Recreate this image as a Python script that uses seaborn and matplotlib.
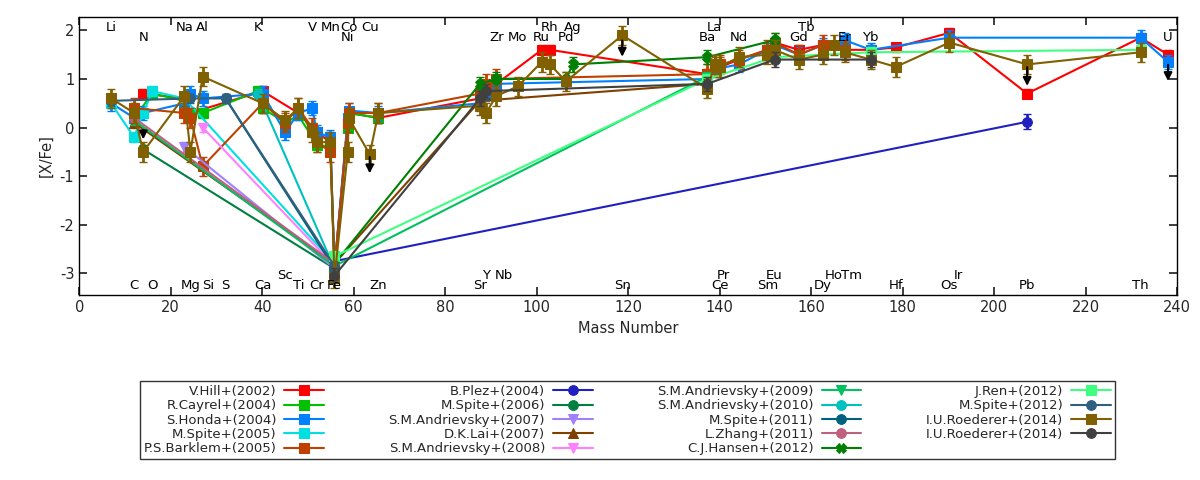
import numpy as np
import pandas as pd
import matplotlib
matplotlib.use('Agg')
import matplotlib.pyplot as plt
import seaborn as sns

sns.set_theme(style='ticks')
plt.rcParams['font.family'] = ['DejaVu Sans']
plt.rcParams['axes.unicode_minus'] = False

# element mass numbers
mass = {'Li': 7, 'C': 12, 'N': 14, 'O': 16, 'Na': 23, 'Mg': 24.3, 'Al': 27, 'Si': 28.1,
        'S': 32, 'K': 39.1, 'Ca': 40.1, 'Sc': 45, 'Ti': 47.9, 'V': 50.9, 'Cr': 52,
        'Mn': 54.9, 'Fe': 55.8, 'Ni': 58.7, 'Co': 58.9, 'Cu': 63.5, 'Zn': 65.4,
        'Sr': 87.6, 'Y': 88.9, 'Zr': 91.2, 'Nb': 92.9, 'Mo': 95.9, 'Ru': 101.1,
        'Rh': 102.9, 'Pd': 106.4, 'Ag': 107.9, 'Sn': 118.7, 'Ba': 137.3, 'La': 138.9,
        'Ce': 140.1, 'Pr': 140.9, 'Nd': 144.2, 'Sm': 150.4, 'Eu': 152, 'Gd': 157.3,
        'Tb': 158.9, 'Dy': 162.5, 'Ho': 164.9, 'Er': 167.3, 'Tm': 168.9, 'Yb': 173,
        'Hf': 178.5, 'Os': 190.2, 'Ir': 192.2, 'Pb': 207.2, 'Th': 232, 'U': 238}

# element label positions (y in [X/Fe])
top_hi = ['Li', 'Na', 'Al', 'K', 'V', 'Mn', 'Co', 'Cu', 'Rh', 'Ag', 'La', 'Tb']
top_lo = ['N', 'Ni', 'Zr', 'Mo', 'Ru', 'Pd', 'Ba', 'Nd', 'Gd', 'Er', 'Yb', 'U']
bot_lo = ['C', 'O', 'Mg', 'Si', 'S', 'Ca', 'Ti', 'Cr', 'Fe', 'Zn', 'Sr', 'Sn', 'Ce',
          'Sm', 'Dy', 'Hf', 'Os', 'Pb', 'Th']
bot_hi = ['Sc', 'Y', 'Nb', 'Pr', 'Eu', 'Ho', 'Tm', 'Ir']

# series: elements, [X/Fe] values, error
hill_el = ['N', 'Na', 'Mg', 'Ca', 'Ti', 'Cr', 'Mn', 'Fe', 'Ni', 'Co', 'Zn', 'Sr', 'Y', 'Zr',
           'Ru', 'Rh', 'Ba', 'La', 'Nd', 'Sm', 'Eu', 'Gd', 'Dy', 'Er', 'Yb', 'Hf', 'Os', 'Pb', 'Th', 'U']
hill_v = [0.7, 0.6, 0.3, 0.75, 0.3, -0.1, -0.3, -2.9, 0.1, 0.3, 0.2, 0.6, 0.8, 0.9,
          1.6, 1.6, 1.1, 1.2, 1.4, 1.6, 1.75, 1.6, 1.7, 1.6, 1.6, 1.65, 1.95, 0.7, 1.85, 1.5]
cayrel_el = ['C', 'O', 'Na', 'Mg', 'Al', 'K', 'Ca', 'Sc', 'Ti', 'Cr', 'Mn', 'Fe', 'Ni', 'Co', 'Zn']
cayrel_v = [0.2, 0.7, 0.55, 0.3, 0.3, 0.75, 0.4, 0.1, 0.25, -0.35, -0.4, -2.9, 0.0, 0.3, 0.2]
honda_el = ['Li', 'C', 'N', 'Na', 'Mg', 'Al', 'Ca', 'Sc', 'Ti', 'V', 'Cr', 'Mn', 'Fe', 'Ni', 'Co',
            'Zn', 'Sr', 'Y', 'Zr', 'Ba', 'La', 'Nd', 'Sm', 'Eu', 'Gd', 'Dy', 'Er', 'Yb', 'Os', 'Th', 'U']
honda_v = [0.5, 0.2, 0.3, 0.5, 0.7, 0.6, 0.7, -0.1, 0.3, 0.4, -0.1, -0.2, -2.9, 0.2, 0.35,
           0.3, 0.5, 0.7, 0.9, 1.0, 1.2, 1.3, 1.6, 1.7, 1.5, 1.7, 1.8, 1.6, 1.85, 1.85, 1.35]
spite05_el = ['Li', 'C', 'N', 'O', 'Na', 'Fe']
spite05_v = [0.5, -0.2, 0.3, 0.75, 0.6, -2.8]
barklem_el = ['C', 'Na', 'Mg', 'Al', 'Ca', 'Sc', 'Ti', 'V', 'Cr', 'Mn', 'Fe', 'Ni', 'Co', 'Zn',
              'Sr', 'Y', 'Zr', 'Ba', 'La', 'Ce', 'Nd', 'Sm', 'Eu', 'Gd', 'Dy', 'Er']
barklem_v = [0.4, 0.3, 0.2, -0.8, 0.5, 0.1, 0.4, 0.0, -0.3, -0.5, -2.9, 0.1, 0.3, 0.3,
             0.7, 0.9, 1.0, 1.1, 1.25, 1.3, 1.4, 1.6, 1.75, 1.5, 1.7, 1.6]
plez_el = ['Fe', 'Pb']
plez_v = [-2.75, 0.12]
spite06_el = ['N', 'Fe']
spite06_v = [-0.45, -2.9]
andr07_el = ['Na', 'Fe']
andr07_v = [-0.4, -2.9]
lai_el = ['C', 'Fe', 'Sr', 'Ba']
lai_v = [0.1, -2.8, 0.55, 0.9]
andr08_el = ['Al', 'Fe']
andr08_v = [0.0, -2.85]
andr09_el = ['C', 'Fe', 'Ba']
andr09_v = [0.15, -2.85, 1.05]
andr10_el = ['K', 'Fe']
andr10_v = [0.7, -2.9]
spite11_el = ['S', 'Fe']
spite11_v = [0.6, -2.9]
zhang_el = ['C', 'Fe']
zhang_v = [0.2, -2.8]
hansen_el = ['Fe', 'Sr', 'Zr', 'Pd', 'Ag', 'Ba', 'Eu']
hansen_v = [-2.8, 0.9, 1.0, 1.0, 1.3, 1.45, 1.8]
ren_el = ['Fe', 'Ba', 'Eu', 'Yb', 'Th']
ren_v = [-2.65, 1.0, 1.45, 1.55, 1.6]
spite12_el = ['Li', 'Mg', 'S', 'Fe']
spite12_v = [0.55, 0.6, 0.6, -2.85]
roed_el = ['Li', 'C', 'N', 'Na', 'Mg', 'Al', 'Ca', 'Sc', 'Ti', 'V', 'Cr', 'Mn', 'Fe', 'Ni', 'Co',
           'Cu', 'Zn', 'Sr', 'Y', 'Zr', 'Mo', 'Ru', 'Rh', 'Pd', 'Sn', 'Ba', 'La', 'Ce', 'Nd',
           'Sm', 'Eu', 'Gd', 'Dy', 'Ho', 'Er', 'Yb', 'Hf', 'Os', 'Pb', 'Th']
roed_v = [0.6, 0.3, -0.5, 0.65, -0.5, 1.05, 0.5, 0.15, 0.4, -0.1, -0.3, -0.3, -3.1, -0.5, 0.2,
          -0.55, 0.3, 0.45, 0.3, 0.65, 0.85, 1.35, 1.3, 0.95, 1.9, 0.8, 1.3, 1.25, 1.45,
          1.5, 1.6, 1.4, 1.5, 1.7, 1.55, 1.4, 1.25, 1.75, 1.3, 1.55]
roed2_el = ['Fe', 'Sr', 'Y', 'Ba', 'Eu', 'Yb']
roed2_v = [-3.05, 0.6, 0.75, 0.9, 1.4, 1.4]

labels = ['V.Hill+(2002)', 'R.Cayrel+(2004)', 'S.Honda+(2004)', 'M.Spite+(2005)',
          'P.S.Barklem+(2005)', 'B.Plez+(2004)', 'M.Spite+(2006)', 'S.M.Andrievsky+(2007)',
          'D.K.Lai+(2007)', 'S.M.Andrievsky+(2008)', 'S.M.Andrievsky+(2009)',
          'S.M.Andrievsky+(2010)', 'M.Spite+(2011)', 'L.Zhang+(2011)', 'C.J.Hansen+(2012)',
          'J.Ren+(2012)', 'M.Spite+(2012)', 'I.U.Roederer+(2014)', 'I.U.Roederer+(2014)']
elems = [hill_el, cayrel_el, honda_el, spite05_el, barklem_el, plez_el, spite06_el, andr07_el,
         lai_el, andr08_el, andr09_el, andr10_el, spite11_el, zhang_el, hansen_el, ren_el,
         spite12_el, roed_el, roed2_el]
vals = [hill_v, cayrel_v, honda_v, spite05_v, barklem_v, plez_v, spite06_v, andr07_v,
        lai_v, andr08_v, andr09_v, andr10_v, spite11_v, zhang_v, hansen_v, ren_v,
        spite12_v, roed_v, roed2_v]
errs = [0.1, 0.1, 0.15, 0.1, 0.2, 0.15, 0.1, 0.1, 0.1, 0.1, 0.1, 0.1, 0.1, 0.1, 0.15,
        0.1, 0.1, 0.2, 0.15]
colors = ['#ff0000', '#00c000', '#0080ff', '#00e0e0', '#c04000', '#2020c0', '#008040',
          '#a080ff', '#804000', '#ff80ff', '#00c060', '#00c0c0', '#006080', '#c06080',
          '#008000', '#40ff80', '#306080', '#806000', '#404040']
markers = ['s', 's', 's', 's', 's', 'o', 'o', 'v', '^', 'v', 'v', 'o', 'o', 'o',
           'X', 's', 'o', 's', 'o']

# upper limits: element, from, to
lim_el = ['N', 'Cu', 'Sn', 'Pb', 'U']
lim_from = [0.0, -0.55, 1.85, 1.3, 1.35]
lim_to = [-0.3, -1.0, 1.4, 0.8, 0.9]

fig = plt.figure(figsize=(12, 4.8), dpi=100)
ax = fig.add_axes([0.066, 0.385, 0.915, 0.58])

for lab, el, v, e, c, m in zip(labels, elems, vals, errs, colors, markers):
    df = pd.DataFrame({'x': [mass[k] for k in el], 'y': v})
    df = df.sort_values('x')
    sns.lineplot(data=df, x='x', y='y', sort=False, color=c, marker=m, markersize=7,
                 markeredgecolor=c, lw=1.5, ax=ax, label=lab)
    ax.errorbar(df['x'], df['y'], yerr=e, fmt='none', ecolor=c, elinewidth=2, capsize=3)

for el, y0, y1 in zip(lim_el, lim_from, lim_to):
    ax.annotate('', xy=(mass[el], y1), xytext=(mass[el], y0),
                arrowprops=dict(arrowstyle='-|>', color='black', lw=1.5))

for group, yy in [(top_hi, 2.05), (top_lo, 1.85), (bot_lo, -3.25), (bot_hi, -3.05)]:
    for el in group:
        ax.text(mass[el], yy, el, ha='center', va='center', fontsize=9.5, color='black')

ax.set_xlim(0, 240)
ax.set_ylim(-3.45, 2.28)
ax.set_xticks(range(0, 241, 20))
ax.set_yticks(range(-3, 3))
ax.set_xlabel('Mass Number', fontsize=10.5)
ax.set_ylabel('[X/Fe]', fontsize=10.5)
ax.tick_params(direction='in', top=True, right=True, labelsize=10.5)
for s in ax.spines.values():
    s.set_color('black')
    s.set_linewidth(1)

h, l = ax.get_legend_handles_labels()
ax.legend(h, l, ncol=4, loc='upper left', bbox_to_anchor=(0.049, -0.285, 0.9, 0),
          mode='expand', markerfirst=False, fontsize=9.5, frameon=True, fancybox=False,
          edgecolor='black', handlelength=3, labelspacing=0.1, borderpad=0.3,
          handletextpad=0.6)

fig.savefig('out.png', dpi=100)
